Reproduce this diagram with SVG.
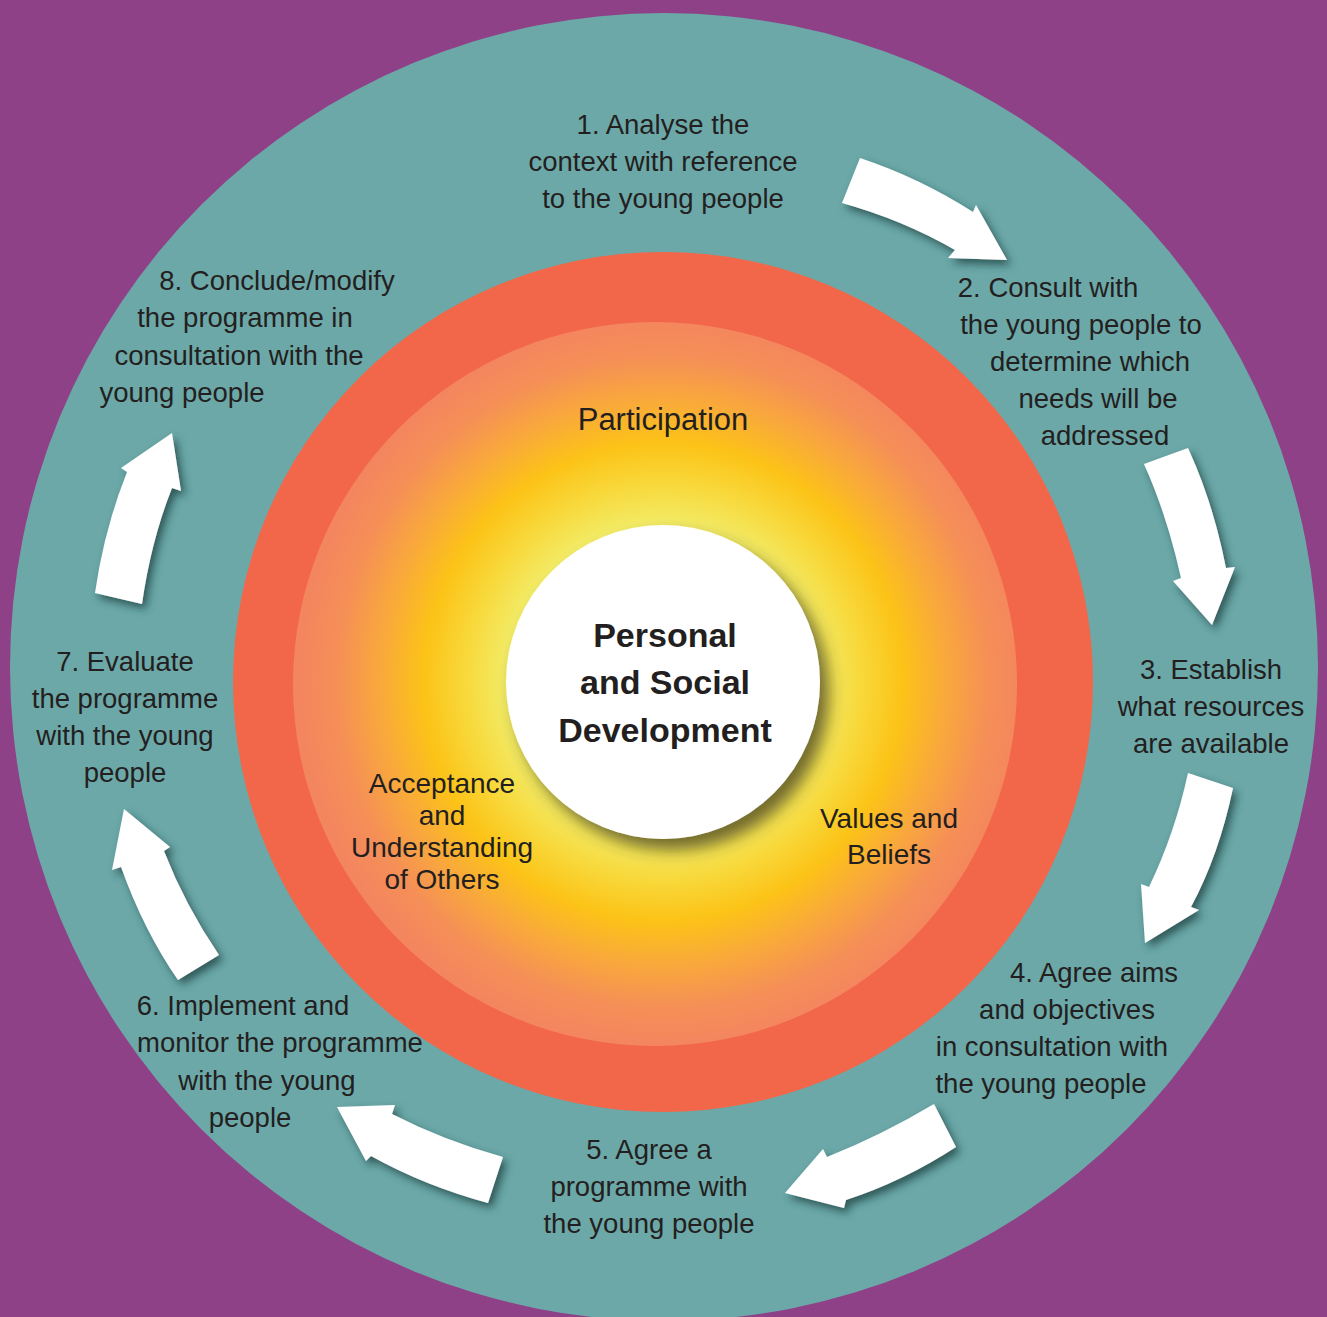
<svg xmlns="http://www.w3.org/2000/svg" width="1327" height="1317" viewBox="0 0 1327 1317">
<style>
.step{font-family:"Liberation Sans",Arial,sans-serif;font-size:27.5px;fill:#231F20;text-anchor:middle}
.inner{font-family:"Liberation Sans",Arial,sans-serif;font-size:28px;fill:#231F20;text-anchor:middle}
.core{font-family:"Liberation Sans",Arial,sans-serif;font-size:34px;font-weight:bold;fill:#231F20;text-anchor:middle}
.arrow{fill:#FFFFFF;filter:url(#ashadow)}
</style>
<defs>
<radialGradient id="glow" gradientUnits="userSpaceOnUse" cx="663" cy="682" r="362">
<stop offset="0" stop-color="#F6F27E"/>
<stop offset="0.43" stop-color="#F2EC68"/>
<stop offset="0.55" stop-color="#F8D83A"/>
<stop offset="0.66" stop-color="#FCC317"/>
<stop offset="0.78" stop-color="#F9A93B"/>
<stop offset="0.9" stop-color="#F58F57"/>
<stop offset="1" stop-color="#F4865E"/>
</radialGradient>
<filter id="ashadow" x="-30%" y="-30%" width="160%" height="160%">
<feDropShadow dx="4" dy="5" stdDeviation="4" flood-color="#1E3C3C" flood-opacity="0.75"/>
</filter>
<filter id="cshadow" x="-30%" y="-30%" width="160%" height="160%">
<feDropShadow dx="9" dy="11" stdDeviation="8" flood-color="#3A3510" flood-opacity="0.7"/>
</filter>
</defs>
<g id="background">
<rect x="0" y="0" width="1327" height="1317" fill="#8F4187"/>
<circle cx="664" cy="667" r="654" fill="#6CA8A8"/>
</g>
<g id="rings">
<circle cx="663" cy="682" r="430" fill="#F26749"/>
<circle cx="655" cy="684" r="362" fill="url(#glow)"/>
</g>
<g id="node-core">
<circle cx="663" cy="682" r="157" fill="#FFFFFF" filter="url(#cshadow)"/>
<text class="core" x="665" y="647">Personal</text>
<text class="core" x="665" y="694">and Social</text>
<text class="core" x="665" y="742">Development</text>
</g>
<g id="label-participation">
<text class="inner" x="663" y="430" style="font-size:31px">Participation</text>
</g>
<g id="label-acceptance">
<text class="inner" x="442" y="793">Acceptance</text>
<text class="inner" x="442" y="825">and</text>
<text class="inner" x="442" y="857">Understanding</text>
<text class="inner" x="442" y="889">of Others</text>
</g>
<g id="label-values">
<text class="inner" x="889" y="828">Values and</text>
<text class="inner" x="889" y="864">Beliefs</text>
</g>
<g id="step-1">
<text class="step" x="663" y="134">1. Analyse the</text>
<text class="step" x="663" y="171">context with reference</text>
<text class="step" x="663" y="208">to the young people</text>
</g>
<g id="step-2">
<text class="step" x="1048" y="297">2. Consult with</text>
<text class="step" x="1081" y="334">the young people to</text>
<text class="step" x="1090" y="371">determine which</text>
<text class="step" x="1098" y="408">needs will be</text>
<text class="step" x="1105" y="445">addressed</text>
</g>
<g id="step-3">
<text class="step" x="1211" y="679">3. Establish</text>
<text class="step" x="1211" y="716">what resources</text>
<text class="step" x="1211" y="753">are available</text>
</g>
<g id="step-4">
<text class="step" x="1094" y="982">4. Agree aims</text>
<text class="step" x="1067" y="1019">and objectives</text>
<text class="step" x="1052" y="1056">in consultation with</text>
<text class="step" x="1041" y="1093">the young people</text>
</g>
<g id="step-5">
<text class="step" x="649" y="1159">5. Agree a</text>
<text class="step" x="649" y="1196">programme with</text>
<text class="step" x="649" y="1233">the young people</text>
</g>
<g id="step-6">
<text class="step" x="243" y="1015">6. Implement and</text>
<text class="step" x="280" y="1052">monitor the programme</text>
<text class="step" x="267" y="1090">with the young</text>
<text class="step" x="250" y="1127">people</text>
</g>
<g id="step-7">
<text class="step" x="125" y="671">7. Evaluate</text>
<text class="step" x="125" y="708">the programme</text>
<text class="step" x="125" y="745">with the young</text>
<text class="step" x="125" y="782">people</text>
</g>
<g id="step-8">
<text class="step" x="277" y="290">8. Conclude/modify</text>
<text class="step" x="245" y="327">the programme in</text>
<text class="step" x="239" y="365">consultation with the</text>
<text class="step" x="182" y="402">young people</text>
</g>
<g id="connectors">
<path class="arrow" d="M860,158 Q920,178 973,212 L976,205 L1007,260 L948,258 L955,250 Q903,220 842,203 Z"/>
<path class="arrow" d="M1144,464 L1188,448 Q1213,502 1226,568 L1235,567 L1212,625 L1173,581 L1181,578 Q1167,515 1144,464 Z"/>
<path class="arrow" d="M1188,773 L1233,788 Q1219,855 1191,907 L1199,910 L1145,943 L1141,884 L1149,887 Q1175,833 1188,773 Z"/>
<path class="arrow" d="M934,1104 L956,1147 Q904,1181 846,1200 L844,1208 L785,1193 L823,1149 L827,1157 Q882,1135 934,1104 Z"/>
<path class="arrow" d="M503,1157 L488,1203 Q425,1186 371,1156 L366,1161 L337,1107 L395,1105 L392,1114 Q445,1141 503,1157 Z"/>
<path class="arrow" d="M178,980 L219,955 Q185,905 164,851 L170,847 L124,809 L112,870 L121,867 Q144,931 178,980 Z"/>
<path class="arrow" d="M95,593 L142,604 Q151,541 172,488 L181,491 L172,433 L121,468 L127,472 Q104,530 95,593 Z"/>
</g>
</svg>
